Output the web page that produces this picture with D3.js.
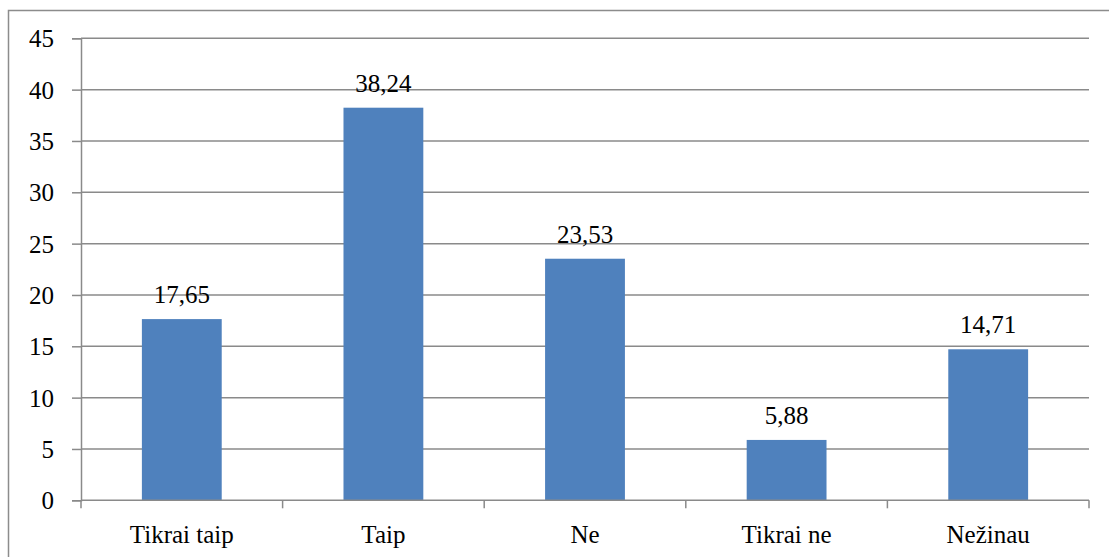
<!DOCTYPE html>
<html>
<head>
<meta charset="utf-8">
<script src="https://cdn.jsdelivr.net/npm/d3@7"></script>
</head>
<body style="margin:0;background:#fff">
<svg id="chart" width="1109" height="557" font-family="Times New Roman" style="display:block"></svg>
<script>
// Answer categories and their shares (%)
const categories = ["Tikrai taip", "Taip", "Ne", "Tikrai ne", "Nežinau"];
const values = [17.65, 38.24, 23.53, 5.88, 14.71];
const valueLabels = ["17,65", "38,24", "23,53", "5,88", "14,71"];
const yTicks = [0, 5, 10, 15, 20, 25, 30, 35, 40, 45];

const svg = d3.select("#chart");
const W = 1109, H = 557;
const plot = { left: 81, right: 1089, top: 38.3, bottom: 500.3 };
const gridColor = "#8a8a8a";
const fontSize = 25;
const fontName = "Times New Roman";

// outer chart frame (extends past the right and bottom edges)
svg.append("rect")
  .attr("x", 8.5).attr("y", 10.5)
  .attr("width", W + 10).attr("height", H + 10)
  .attr("fill", "none").attr("stroke", "#8c8c8c").attr("stroke-width", 1.5);

const x = d3.scaleBand().domain(categories).range([plot.left, plot.right]).padding(0);
const y = d3.scaleLinear().domain([0, 45]).range([plot.bottom, plot.top]);

// horizontal gridlines
svg.append("g").selectAll("line").data(yTicks.filter(d => d > 0)).join("line")
  .attr("x1", plot.left).attr("x2", plot.right)
  .attr("y1", d => y(d)).attr("y2", d => y(d))
  .attr("stroke", gridColor).attr("stroke-width", 1.5);

// y axis: ticks and domain from d3.axisLeft, labels drawn as plain text
const yAxis = svg.append("g").attr("transform", `translate(${plot.left},0)`)
  .call(d3.axisLeft(y).tickValues(yTicks).tickSize(9).tickFormat(""));
yAxis.select(".domain").attr("stroke", gridColor).attr("stroke-width", 1.5);
yAxis.selectAll(".tick line").attr("stroke", gridColor).attr("stroke-width", 1.5);

svg.append("g").selectAll("text").data(yTicks).join("text")
  .attr("x", 54)
  .attr("y", d => y(d) + 9)
  .attr("text-anchor", "end")
  .attr("font-family", fontName).attr("font-size", fontSize)
  .attr("fill", "#000")
  .text(d => String(d));

// bars
const barW = x.step() * 0.396;
svg.append("g").selectAll("rect").data(values).join("rect")
  .attr("x", (d, i) => x(categories[i]) + x.bandwidth() / 2 - barW / 2)
  .attr("width", barW)
  .attr("y", d => y(d))
  .attr("height", d => y(0) - y(d))
  .attr("fill", "#4f81bd");

// x axis with boundary ticks between categories
const xAxisG = svg.append("g").attr("transform", `translate(0,${plot.bottom})`);
xAxisG.append("line")
  .attr("x1", plot.left).attr("x2", plot.right)
  .attr("stroke", gridColor).attr("stroke-width", 1.5);
const bounds = categories.map(c => x(c)).concat([plot.right]);
xAxisG.selectAll("line.b").data(bounds).join("line").attr("class", "b")
  .attr("x1", d => d).attr("x2", d => d)
  .attr("y1", 0).attr("y2", 8)
  .attr("stroke", gridColor).attr("stroke-width", 1.5);

svg.append("g").selectAll("text").data(categories).join("text")
  .attr("x", d => x(d) + x.bandwidth() / 2)
  .attr("y", 543)
  .attr("text-anchor", "middle")
  .attr("font-family", fontName).attr("font-size", fontSize)
  .attr("fill", "#000")
  .text(d => d);

// value labels above bars
svg.append("g").selectAll("text").data(values).join("text")
  .attr("x", (d, i) => x(categories[i]) + x.bandwidth() / 2)
  .attr("y", d => y(d) - 16)
  .attr("text-anchor", "middle")
  .attr("font-family", fontName).attr("font-size", fontSize)
  .attr("fill", "#000")
  .text((d, i) => valueLabels[i]);
</script>
</body>
</html>
